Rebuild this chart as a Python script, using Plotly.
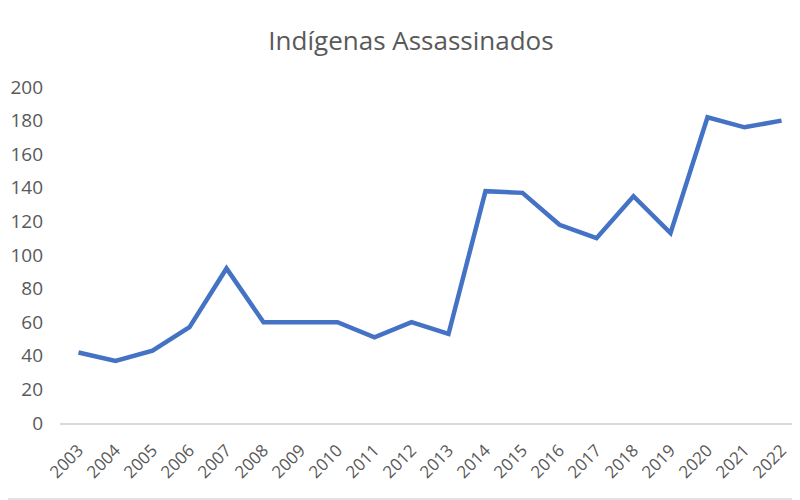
import plotly.graph_objects as go

years = [str(y) for y in range(2003, 2023)]
values = [42, 37, 43, 57, 92, 60, 60, 60, 51, 60, 53, 138, 137, 118, 110, 135, 113, 182, 176, 180]
y_ticks = [0, 20, 40, 60, 80, 100, 120, 140, 160, 180, 200]

fig = go.Figure()
fig.add_trace(go.Scatter(
    x=years, y=values, mode="lines",
    line=dict(color="#4472C4", width=4.5, shape="linear"),
    hoverinfo="x+y",
))

font_family = "Open Sans, Liberation Sans, sans-serif"
W, H = 792, 492
ML, MR, MT, MB = 52, 0, 79, 77
PH = H - MT - MB
fig.update_layout(
    width=W, height=H,
    paper_bgcolor="white", plot_bgcolor="white",
    margin=dict(l=ML, r=MR, t=MT, b=MB, pad=0),
    showlegend=False,
    title=dict(text="Indígenas Assassinados", x=403 / W, xanchor="center",
               y=1 - 33 / H, yanchor="middle",
               font=dict(family=font_family, size=26, color="#595959")),
    font=dict(family=font_family, size=13, color="#595959"),
    xaxis=dict(type="category", range=[-0.5, 19.5], showgrid=False, showline=True,
               linecolor="#D9D9D9", linewidth=1.5, ticks="", tickangle=-45,
               tickfont=dict(size=17, color="#595959"), zeroline=False,
               ticklabelstandoff=9, automargin=False),
    yaxis=dict(range=[0, 200], tickvals=y_ticks, showgrid=False, showline=False,
               zeroline=False, ticks="", tickfont=dict(size=19, color="#595959"),
               ticklabelstandoff=16, automargin=False),
    shapes=[dict(type="line", xref="paper", yref="paper", x0=-ML / (W - ML - MR), x1=1,
                 y0=-(MB - 1) / PH, y1=-(MB - 1) / PH,
                 line=dict(color="#D9D9D9", width=1.5), layer="below")],
)

fig.write_html("out.html")
